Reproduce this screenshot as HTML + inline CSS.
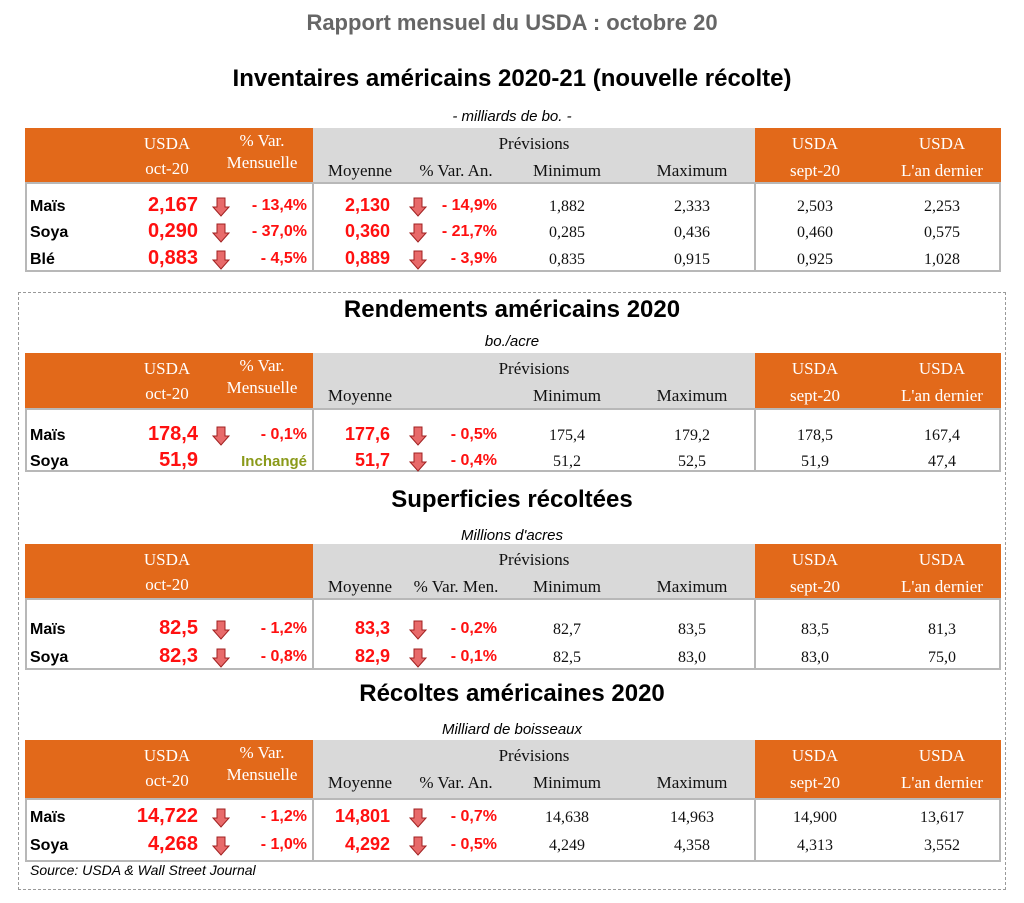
<!DOCTYPE html>
<html><head><meta charset="utf-8">
<style>
body{margin:0;width:1024px;height:903px;background:#fff;position:relative;overflow:hidden;font-family:"Liberation Sans",sans-serif}
.a{position:absolute;white-space:nowrap}
.t{font-weight:bold;font-size:24px;color:#000;left:0;width:1024px;text-align:center}
.st{font-style:italic;font-size:15px;left:0;width:1024px;text-align:center}
.or{background:#E2691A}
.gr{background:#D9D9D9}
.hw{font-family:"Liberation Serif",serif;color:#fff;font-size:17px;text-align:center}
.hb{font-family:"Liberation Serif",serif;color:#111;font-size:17px;text-align:center}
.body{border:2px solid #b8b8b8;box-sizing:border-box}
.lab{font-weight:bold;font-size:16px;color:#000}
.big{font-weight:bold;font-size:20px;color:#ff1010;text-align:right}
.red{font-weight:bold;font-size:16px;color:#ff1010;text-align:right}
.red2{font-weight:bold;font-size:18px;color:#ff1010;text-align:right}
.blk{font-family:"Liberation Serif",serif;font-size:16px;color:#111;text-align:center}
.grn{font-weight:bold;font-size:15px;color:#8a9a1a;text-align:right}
</style></head><body>
<div class="a" style="top:10px;left:0;width:1024px;text-align:center;font-weight:bold;font-size:22px;color:#666">Rapport mensuel du USDA : octobre 20</div>
<div class="a" style="left:18px;top:292px;width:988px;height:598px;border:1px dashed #999;box-sizing:border-box"></div>
<div class="a" style="left:30px;top:862px;font-style:italic;font-size:14px">Source: USDA &amp; Wall Street Journal</div>
<script>
const tables=[
 {name:'inventaires',title:'Inventaires américains 2020-21 (nouvelle récolte)',sub:'- milliards de bo. -',tY:65,sY:108,hY:128,bY:182,bH:90,rows:[207,233,260],
  h2:['% Var.','Mensuelle'],h3:'% Var. An.',
  data:[['Maïs','2,167','- 13,4%','2,130','- 14,9%','1,882','2,333','2,503','2,253'],
        ['Soya','0,290','- 37,0%','0,360','- 21,7%','0,285','0,436','0,460','0,575'],
        ['Blé','0,883','- 4,5%','0,889','- 3,9%','0,835','0,915','0,925','1,028']]},
 {name:'rendements',title:'Rendements américains 2020',sub:'bo./acre',tY:296,sY:333,hY:353,bY:408,bH:64,rows:[436,462],
  h2:['% Var.','Mensuelle'],h3:'',
  data:[['Maïs','178,4','- 0,1%','177,6','- 0,5%','175,4','179,2','178,5','167,4'],
        ['Soya','51,9','Inchangé','51,7','- 0,4%','51,2','52,5','51,9','47,4']]},
 {name:'superficies',title:'Superficies récoltées',sub:"Millions d'acres",tY:486,sY:527,hY:544,bY:598,bH:72,rows:[630,658],
  h2:['',''],h3:'% Var. Men.',
  data:[['Maïs','82,5','- 1,2%','83,3','- 0,2%','82,7','83,5','83,5','81,3'],
        ['Soya','82,3','- 0,8%','82,9','- 0,1%','82,5','83,0','83,0','75,0']]},
 {name:'recoltes',title:'Récoltes américaines 2020',sub:'Milliard de boisseaux',tY:680,sY:721,hY:740,bY:798,bH:64,rows:[818,846],
  h2:['% Var.','Mensuelle'],h3:'% Var. An.',
  data:[['Maïs','14,722','- 1,2%','14,801','- 0,7%','14,638','14,963','14,900','13,617'],
        ['Soya','4,268','- 1,0%','4,292','- 0,5%','4,249','4,358','4,313','3,552']]}
];
function mk(cls,style,text,name){
 const d=document.createElement('div');
 d.className='a '+cls;d.style.cssText=style;
 if(text!==undefined)d.textContent=text;
 
 
 document.body.appendChild(d);return d;
}
function arrow(x,y,name){
 const d=mk('','left:'+x+'px;top:'+y+'px;width:18px;height:20px',undefined,name);
 d.innerHTML='<svg width="18" height="20"><path d="M5 1H13V10H17L9 19L1 10H5Z" fill="#e86a6a" stroke="#a02020" stroke-width="1"/></svg>';
}
function cen(cx,w){return 'left:'+(cx-w/2)+'px;width:'+w+'px;';}
tables.forEach(T=>{
 const n=T.name;
 mk('t','top:'+T.tY+'px',T.title,n+'-title');
 mk('st','top:'+T.sY+'px',T.sub,n+'-subtitle');
 const hH=T.bY-T.hY;
 mk('or','left:25px;top:'+T.hY+'px;width:288px;height:'+hH+'px',undefined,n+'-header-usda');
 mk('gr','left:313px;top:'+T.hY+'px;width:442px;height:'+hH+'px',undefined,n+'-header-previsions');
 mk('or','left:755px;top:'+T.hY+'px;width:246px;height:'+hH+'px',undefined,n+'-header-reference');
 const y1=T.hY+6,y2=T.hY+31;
 mk('hw',cen(167,80)+'top:'+y1+'px','USDA',n+'-hdr-usda');
 mk('hw',cen(167,80)+'top:'+y2+'px','oct-20',n+'-hdr-oct');
 mk('hw',cen(262,100)+'top:'+(y1-3)+'px',T.h2[0],n+'-hdr-var');
 mk('hw',cen(262,100)+'top:'+(y2-6)+'px',T.h2[1],n+'-hdr-mens');
 mk('hb',cen(534,100)+'top:'+y1+'px','Prévisions',n+'-hdr-previsions');
 mk('hb',cen(360,90)+'top:'+(y2+2)+'px','Moyenne',n+'-hdr-moyenne');
 mk('hb',cen(456,100)+'top:'+(y2+2)+'px',T.h3,n+'-hdr-var-an');
 mk('hb',cen(567,100)+'top:'+(y2+2)+'px','Minimum',n+'-hdr-min');
 mk('hb',cen(692,100)+'top:'+(y2+2)+'px','Maximum',n+'-hdr-max');
 mk('hw',cen(815,100)+'top:'+y1+'px','USDA',n+'-hdr-usda-sept');
 mk('hw',cen(815,100)+'top:'+(y2+2)+'px','sept-20',n+'-hdr-sept');
 mk('hw',cen(942,100)+'top:'+y1+'px','USDA',n+'-hdr-usda-last');
 mk('hw',cen(942,120)+'top:'+(y2+2)+'px',"L'an dernier",n+'-hdr-last');
 mk('body','left:25px;top:'+T.bY+'px;width:976px;height:'+T.bH+'px',undefined,n+'-body');
 mk('','left:312px;top:'+T.bY+'px;width:2px;height:'+T.bH+'px;background:#b8b8b8',undefined,n+'-sep1');
 mk('','left:754px;top:'+T.bY+'px;width:2px;height:'+T.bH+'px;background:#b8b8b8',undefined,n+'-sep2');
 T.data.forEach((r,i)=>{
  const y=T.rows[i]-10,p=n+'-'+r[0].toLowerCase().replace(/[^a-z]/g,'');
  mk('lab','left:30px;top:'+(y+1)+'px',r[0],p+'-label');
  mk('big','left:100px;width:98px;top:'+(y-3)+'px',r[1],p+'-usda');
  if(r[2]==='Inchangé'){mk('grn','left:200px;width:107px;top:'+(y+1)+'px',r[2],p+'-var-mens');}
  else{arrow(212,y,p+'-arrow-mens');mk('red','left:230px;width:77px;top:'+y+'px',r[2],p+'-var-mens');}
  mk('red2','left:300px;width:90px;top:'+(y-2)+'px',r[3],p+'-moyenne');
  arrow(409,y,p+'-arrow-an');
  mk('red','left:430px;width:67px;top:'+y+'px',r[4],p+'-var-an');
  mk('blk',cen(567,100)+'top:'+(y+1)+'px',r[5],p+'-min');
  mk('blk',cen(692,100)+'top:'+(y+1)+'px',r[6],p+'-max');
  mk('blk',cen(815,100)+'top:'+(y+1)+'px',r[7],p+'-sept');
  mk('blk',cen(942,100)+'top:'+(y+1)+'px',r[8],p+'-last');
 });
});
</script>
</body></html>
